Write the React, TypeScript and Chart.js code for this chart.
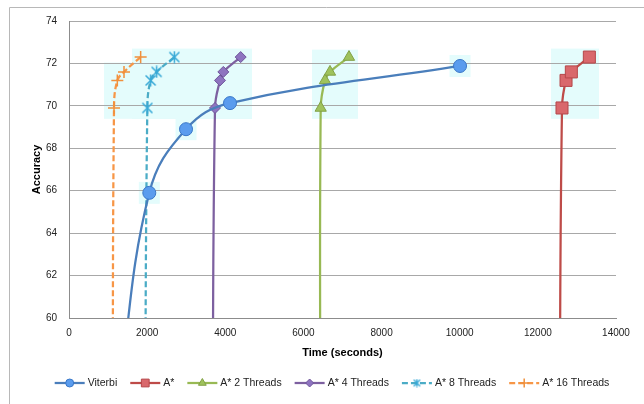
import React, { useEffect, useRef } from 'react';
import { Chart, registerables } from 'chart.js';
import { drawPoint } from 'chart.js/helpers';

Chart.register(...registerables);

// ---------- data (time in seconds, accuracy in %) ----------
const seriesNames = ['Viterbi', 'A*', 'A* 2 Threads', 'A* 4 Threads', 'A* 8 Threads', 'A* 16 Threads'];
// first entry of each series lies below the visible axis (curve continues off-chart)
const viterbiTime = [1250, 2055, 2995, 4121, 10008];
const viterbiAcc = [56, 65.9, 68.9, 70.13, 71.88];
const aStarTime = [12550, 12618, 12721, 12857, 13318];
const aStarAcc = [50, 69.9, 71.2, 71.6, 72.3];
const aStar2Time = [6442, 6442, 6552, 6680, 7166];
const aStar2Acc = [50, 69.9, 71.2, 71.6, 72.3];
const aStar4Time = [3670, 3737, 3865, 3950, 4394];
const aStar4Acc = [50, 69.9, 71.2, 71.6, 72.3];
const aStar8Time = [1940, 2005, 2090, 2244, 2696];
const aStar8Acc = [50, 69.9, 71.2, 71.6, 72.3];
const aStar16Time = [1118, 1152, 1237, 1408, 1834];
const aStar16Acc = [50, 69.9, 71.2, 71.6, 72.3];

const xTicks = [0, 2000, 4000, 6000, 8000, 10000, 12000, 14000];
const yTicks = [60, 62, 64, 66, 68, 70, 72, 74];

// shaded highlight regions [xMin, xMax, yMin, yMax] in data units
const highlightRegions = [
  [896, 4684, 69.39, 72.04],
  [1612, 4684, 69.39, 72.7],
  [6220, 7397, 69.39, 72.65],
  [12337, 13565, 69.39, 72.7],
];

const FONT = '"Liberation Sans", Arial, sans-serif';
const HILITE = '#e4fcfc';

function makeAsterisk(size: number, color: string, lw: number) {
  const c = document.createElement('canvas');
  c.width = size;
  c.height = size;
  const g = c.getContext('2d')!;
  g.strokeStyle = color;
  g.lineWidth = lw;
  const m = lw;
  g.beginPath();
  g.moveTo(m, m);
  g.lineTo(size - m, size - m);
  g.moveTo(size - m, m);
  g.lineTo(m, size - m);
  g.moveTo(size / 2, 0.5);
  g.lineTo(size / 2, size - 0.5);
  g.stroke();
  return c;
}

const toPts = (xs: number[], ys: number[]) => xs.map((x, i) => ({ x, y: ys[i] }));

const framePlugin = {
  id: 'frameAndHighlights',
  beforeDraw(chart: any) {
    const { ctx, scales } = chart;
    const xs = scales.x;
    const ys = scales.y;
    ctx.save();
    // outer chart frame
    ctx.strokeStyle = '#b8b8b8';
    ctx.lineWidth = 1;
    ctx.beginPath();
    ctx.moveTo(9.5, chart.height);
    ctx.lineTo(9.5, 7.5);
    ctx.lineTo(chart.width, 7.5);
    ctx.stroke();
    // highlight regions
    ctx.fillStyle = HILITE;
    highlightRegions.forEach(([x0, x1, y0, y1]) => {
      const px0 = xs.getPixelForValue(x0);
      const px1 = xs.getPixelForValue(x1);
      const py0 = ys.getPixelForValue(y1);
      const py1 = ys.getPixelForValue(y0);
      ctx.fillRect(px0, py0, px1 - px0, py1 - py0);
    });
    // halos around Viterbi markers
    viterbiTime.forEach((t, i) => {
      const v = viterbiAcc[i];
      if (v < 60) return;
      const px = xs.getPixelForValue(t);
      const py = ys.getPixelForValue(v);
      ctx.fillRect(px - 10.5, py - 11, 21, 22);
    });
    ctx.restore();
  },
};

const legendPlugin = {
  id: 'excelLegend',
  afterDraw(chart: any) {
    const ctx = chart.ctx;
    ctx.save();
    ctx.font = `10.5px ${FONT}`;
    const lineW = 30;
    const gap = 3;
    const spacing = 13;
    const dss = chart.data.datasets;
    const widths = dss.map((d: any) => ctx.measureText(d.label).width);
    const total = widths.reduce((s: number, w: number) => s + lineW + gap + w, 0) + spacing * (dss.length - 1);
    let x = 332 - total / 2;
    const y = 383;
    dss.forEach((d: any, i: number) => {
      ctx.save();
      ctx.strokeStyle = d.borderColor;
      ctx.lineWidth = d.borderWidth;
      ctx.setLineDash(d.borderDash || []);
      ctx.beginPath();
      ctx.moveTo(x, y);
      ctx.lineTo(x + lineW, y);
      ctx.stroke();
      ctx.setLineDash([]);
      ctx.fillStyle = d.pointBackgroundColor;
      ctx.strokeStyle = d.pointBorderColor;
      ctx.lineWidth = d.pointBorderWidth;
      drawPoint(ctx, {
        pointStyle: d.legendPointStyle || d.pointStyle,
        rotation: 0,
        radius: d.legendRadius,
        borderWidth: d.pointBorderWidth,
      } as any, x + lineW / 2, y);
      ctx.restore();
      ctx.fillStyle = '#222';
      ctx.textBaseline = 'middle';
      ctx.textAlign = 'left';
      ctx.fillText(d.label, x + lineW + gap, y);
      x += lineW + gap + widths[i] + spacing;
    });
    ctx.restore();
  },
};

export default function App() {
  const ref = useRef<HTMLCanvasElement | null>(null);

  useEffect(() => {
    document.body.style.margin = '0';
    const canvas = ref.current!;
    const star = makeAsterisk(13, '#36a8d6', 1.5);
    const starSmall = makeAsterisk(9, '#36a8d6', 1.3);
    const hide = (r: number) => (c: any) => (c.raw && c.raw.y < 60 ? 0 : r);

    const base = { showLine: true, fill: false, tension: 0.4, pointRotation: 0 };
    const datasets: any[] = [
      {
        ...base, label: seriesNames[0], data: toPts(viterbiTime, viterbiAcc),
        borderColor: '#4a7ebb', borderWidth: 2.25,
        pointStyle: 'circle', pointRadius: hide(6.5), legendRadius: 4,
        pointBackgroundColor: '#5a9cee', pointBorderColor: '#3a78c8', pointBorderWidth: 1,
      },
      {
        ...base, label: seriesNames[1], data: toPts(aStarTime, aStarAcc),
        borderColor: '#be4b48', borderWidth: 2.25,
        pointStyle: 'rect', pointRadius: hide(8.5), legendRadius: 5.5,
        pointBackgroundColor: '#d9686c', pointBorderColor: '#b5474a', pointBorderWidth: 1,
      },
      {
        ...base, label: seriesNames[2], data: toPts(aStar2Time, aStar2Acc),
        borderColor: '#98b954', borderWidth: 2.25,
        pointStyle: 'triangle', pointRadius: hide(6.5), legendRadius: 4.5,
        pointBackgroundColor: '#9fc25c', pointBorderColor: '#82a146', pointBorderWidth: 1,
      },
      {
        ...base, label: seriesNames[3], data: toPts(aStar4Time, aStar4Acc),
        borderColor: '#7d60a0', borderWidth: 2.25,
        pointStyle: 'rectRot', pointRadius: hide(5.5), legendRadius: 4,
        pointBackgroundColor: '#8e74c0', pointBorderColor: '#6f559a', pointBorderWidth: 1,
      },
      {
        ...base, label: seriesNames[4], data: toPts(aStar8Time, aStar8Acc),
        borderColor: '#4bacc6', borderWidth: 2.25, borderDash: [6, 3],
        pointStyle: star, legendPointStyle: starSmall, pointRadius: hide(6.5), legendRadius: 4.5,
        pointBackgroundColor: '#36a8d6', pointBorderColor: '#36a8d6', pointBorderWidth: 1.5,
      },
      {
        ...base, label: seriesNames[5], data: toPts(aStar16Time, aStar16Acc),
        borderColor: '#f79646', borderWidth: 2.25, borderDash: [6, 3],
        pointStyle: 'cross', pointRadius: hide(6), legendRadius: 4.5,
        pointBackgroundColor: '#f0903c', pointBorderColor: '#f0903c', pointBorderWidth: 1.5,
      },
    ];

    const tickFont = { family: FONT, size: 10 };
    const chart = new Chart(canvas, {
      type: 'line',
      data: { datasets },
      options: {
        animation: false,
        responsive: false,
        devicePixelRatio: 1,
        layout: { padding: { left: 0, top: 21, right: 28, bottom: 39 } },
        plugins: { legend: { display: false }, tooltip: { enabled: false } },
        scales: {
          x: {
            type: 'linear',
            min: xTicks[0],
            max: xTicks[xTicks.length - 1],
            afterFit: (s: any) => { s.height = 47; },
            afterBuildTicks: (s: any) => { s.ticks = xTicks.map((v) => ({ value: v })); },
            grid: { display: false, drawTicks: false },
            border: { display: true, color: '#8c8c8c', width: 1 },
            ticks: { padding: 9, font: tickFont, color: '#222', maxRotation: 0, autoSkip: false, callback: (v: any) => String(v) },
            title: { display: true, text: 'Time (seconds)', color: '#000', font: { family: FONT, size: 11, weight: 'bold' }, padding: { top: 0, bottom: 5.4 } },
          },
          y: {
            type: 'linear',
            min: yTicks[0],
            max: yTicks[yTicks.length - 1],
            afterFit: (s: any) => { s.width = 69; },
            afterBuildTicks: (s: any) => { s.ticks = yTicks.map((v) => ({ value: v })); },
            grid: { color: '#a8a8a8', drawTicks: false, lineWidth: 1 },
            border: { display: true, color: '#8c8c8c', width: 1 },
            ticks: { padding: 12, font: tickFont, color: '#222', callback: (v: any) => String(v) },
            title: { display: true, text: 'Accuracy', color: '#000', font: { family: FONT, size: 11, weight: 'bold' }, padding: { top: 30.4, bottom: 0 } },
          },
        },
      } as any,
      plugins: [framePlugin, legendPlugin],
    });
    return () => chart.destroy();
  }, []);

  return (
    <div style={{ width: 644, height: 404 }}>
      <canvas ref={ref} width={644} height={404} style={{ display: 'block', width: 644, height: 404 }} />
    </div>
  );
}
